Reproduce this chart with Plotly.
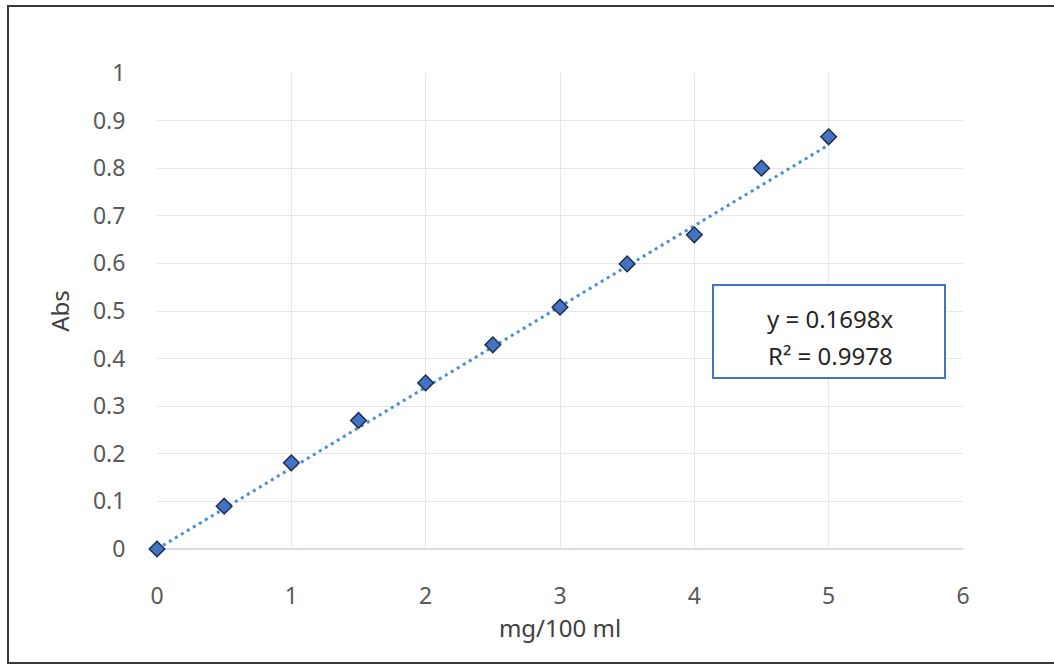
import plotly.graph_objects as go

# Calibration standards: concentration (mg/100 ml) vs absorbance
concentration = [0, 0.5, 1, 1.5, 2, 2.5, 3, 3.5, 4, 4.5, 5]
absorbance = [0, 0.090, 0.181, 0.270, 0.349, 0.429, 0.508, 0.599, 0.660, 0.800, 0.866]

# Linear fit through the origin
slope = 0.1698
r_squared = 0.9978
fit_x = [0, 5]
fit_y = [slope * v for v in fit_x]

x_ticks = [0, 1, 2, 3, 4, 5, 6]
y_ticks = [0, 0.1, 0.2, 0.3, 0.4, 0.5, 0.6, 0.7, 0.8, 0.9, 1]

FONT = "Noto Sans"
TICK_COLOR = "#595959"
GRID = "#E4E4F2"
CLEAR = "rgba(0,0,0,0)"

fig = go.Figure()

fig.add_trace(go.Scatter(
    x=fit_x, y=fit_y, mode="lines",
    line=dict(color="#4A8FD6", width=3, dash="3px,4px"),
    hoverinfo="skip", showlegend=False,
))

fig.add_trace(go.Scatter(
    x=concentration, y=absorbance, mode="markers",
    marker=dict(symbol="diamond", size=12, color="#4472C4",
                line=dict(color="#1F2F4F", width=1.5)),
    cliponaxis=False, showlegend=False,
))

fig.update_layout(
    width=1054, height=666,
    margin=dict(l=157, r=91, t=73, b=117),
    paper_bgcolor="white", plot_bgcolor="white",
    font=dict(family=FONT, size=23, color=TICK_COLOR),
    xaxis=dict(
        range=[0, 6], tickvals=x_ticks, ticktext=[str(v) for v in x_ticks],
        showgrid=True, gridcolor=GRID, gridwidth=1,
        zeroline=False, showline=False,
        ticks="outside", ticklen=26, tickcolor=CLEAR,
        title=dict(text="mg/100 ml", font=dict(family=FONT, size=24, color="#404040"), standoff=8),
        tickfont=dict(family=FONT, size=23, color=TICK_COLOR),
    ),
    yaxis=dict(
        range=[0, 1], tickvals=y_ticks, ticktext=[f"{v:g}" for v in y_ticks],
        showgrid=True, gridcolor=GRID, gridwidth=1,
        zeroline=False, showline=False,
        ticks="outside", ticklen=26, tickcolor=CLEAR,
        title=dict(text="Abs", font=dict(family=FONT, size=24, color="#404040"), standoff=16),
        tickfont=dict(family=FONT, size=23, color=TICK_COLOR),
    ),
    shapes=[
        # x axis baseline
        dict(type="line", xref="paper", yref="paper", x0=0, x1=1, y0=0, y1=0,
             line=dict(color="#D0D0E0", width=1.5), layer="below"),
        # equation box
        dict(type="rect", xref="paper", yref="paper",
             x0=(713 - 157) / 806, x1=(945 - 157) / 806,
             y0=(549 - 378) / 476, y1=(549 - 285) / 476,
             line=dict(color="#4472C4", width=2), fillcolor="white"),
        # outer frame
        dict(type="rect", xref="paper", yref="paper",
             x0=(8 - 157) / 806, x1=(1060 - 157) / 806,
             y0=(549 - 663) / 476, y1=(549 - 6) / 476,
             line=dict(color="#3A3A3A", width=2)),
    ],
    annotations=[
        dict(xref="paper", yref="paper", x=(830 - 157) / 806, y=(549 - 318) / 476,
             xanchor="center", yanchor="middle",
             text=f"y = {slope:.4f}x", showarrow=False,
             font=dict(family=FONT, size=24, color="#262626")),
        dict(xref="paper", yref="paper", x=(830 - 157) / 806, y=(549 - 355) / 476,
             xanchor="center", yanchor="middle",
             text=f"R² = {r_squared:.4f}", showarrow=False,
             font=dict(family=FONT, size=24, color="#262626")),
    ],
)

fig.write_html("out.html")
